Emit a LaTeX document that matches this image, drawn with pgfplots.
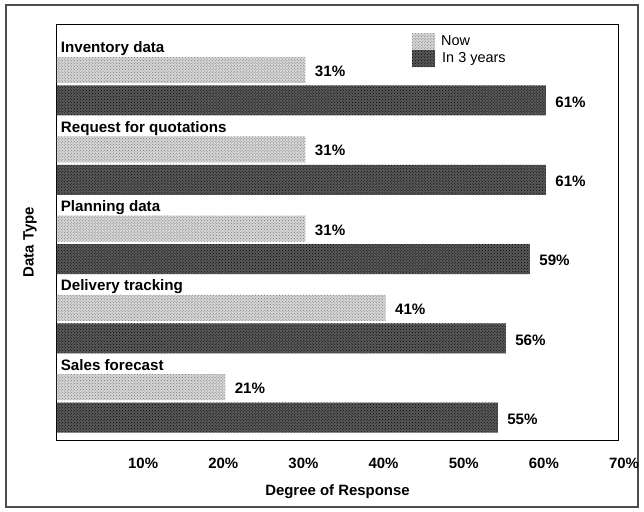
\documentclass[border=0pt]{standalone}
\usepackage{pgfplots}
\pgfplotsset{compat=1.18}
\usepackage{fontspec}
\setmainfont{Liberation Sans}
\usetikzlibrary{patterns}
\begin{document}
\begin{tikzpicture}
\path[use as bounding box] (0,0) rectangle (644bp,512bp);
\draw[line width=1.6bp, black!70] (6bp,5bp) rectangle (638bp,507bp);
\begin{axis}[
  at={(57bp,72bp)}, anchor=south west,
  scale only axis, width=561bp, height=415bp,
  xmin=0, xmax=70, ymin=0, ymax=415,
  xbar,
  /pgf/number format/assume math mode=true,
  axis line style={line width=1bp},
  ytick=\empty,
  xtick={10,20,30,40,50,60,70},
  xticklabels={10\%,20\%,30\%,40\%,50\%,60\%,70\%},
  major tick length=0pt,
  xticklabel style={font=\bfseries\fontsize{15}{18}\selectfont, anchor=center, yshift=-23bp, xshift=6bp},
  xlabel={Degree of Response},
  xlabel style={font=\bfseries\fontsize{15}{18}\selectfont, at={(axis description cs:0.5,-0.125)}, anchor=center},
  ylabel={Data Type},
  ylabel style={font=\bfseries\fontsize{15}{18}\selectfont, at={(axis description cs:-0.048,0.477)}, anchor=center, rotate=0},
  point meta=x,
  nodes near coords={\pgfmathprintnumber{\pgfplotspointmeta}\%},
  every node near coord/.append style={font=\bfseries\fontsize{15.2}{18}\selectfont, xshift=6bp, yshift=-1.5bp},
  legend image code/.code={\fill[#1] (0bp,-8.5bp) rectangle (23bp,8.5bp);},
  legend style={at={(axis cs:44.3,407)}, anchor=north west, draw=none, fill=none,
    inner sep=0pt, row sep=0pt, font=\fontsize{14.5}{17}\selectfont,
    nodes={inner sep=1bp, text height=10.5bp, text depth=3bp}},
  legend cell align=left,
]
\addplot[bar width=26, bar shift=0pt, draw=none, fill=black!16,
  postaction={pattern=crosshatch dots, pattern color=black!55}]
  coordinates {(31,370) (31,290.7) (31,211.4) (41,132.1) (21,52.8)};
\addlegendentry{\hspace{5bp}Now}
\addplot[bar width=30, bar shift=0pt, draw=none, fill=black!65,
  postaction={pattern=crosshatch dots, pattern color=black}]
  coordinates {(61,339.5) (61,260.2) (59,180.9) (56,101.6) (55,22.3)};
\addlegendentry{\hspace{6bp}In 3 years}
\begin{scope}[every node/.style={anchor=base west, inner sep=0pt, xshift=3.7bp, font=\bfseries\fontsize{15.2}{18}\selectfont}]
\node at (axis cs:0,387) {Inventory data};
\node at (axis cs:0,307.7) {Request for quotations};
\node at (axis cs:0,228.4) {Planning data};
\node at (axis cs:0,149.1) {Delivery tracking};
\node at (axis cs:0,69.8) {Sales forecast};
\end{scope}
\end{axis}
\end{tikzpicture}
\end{document}
